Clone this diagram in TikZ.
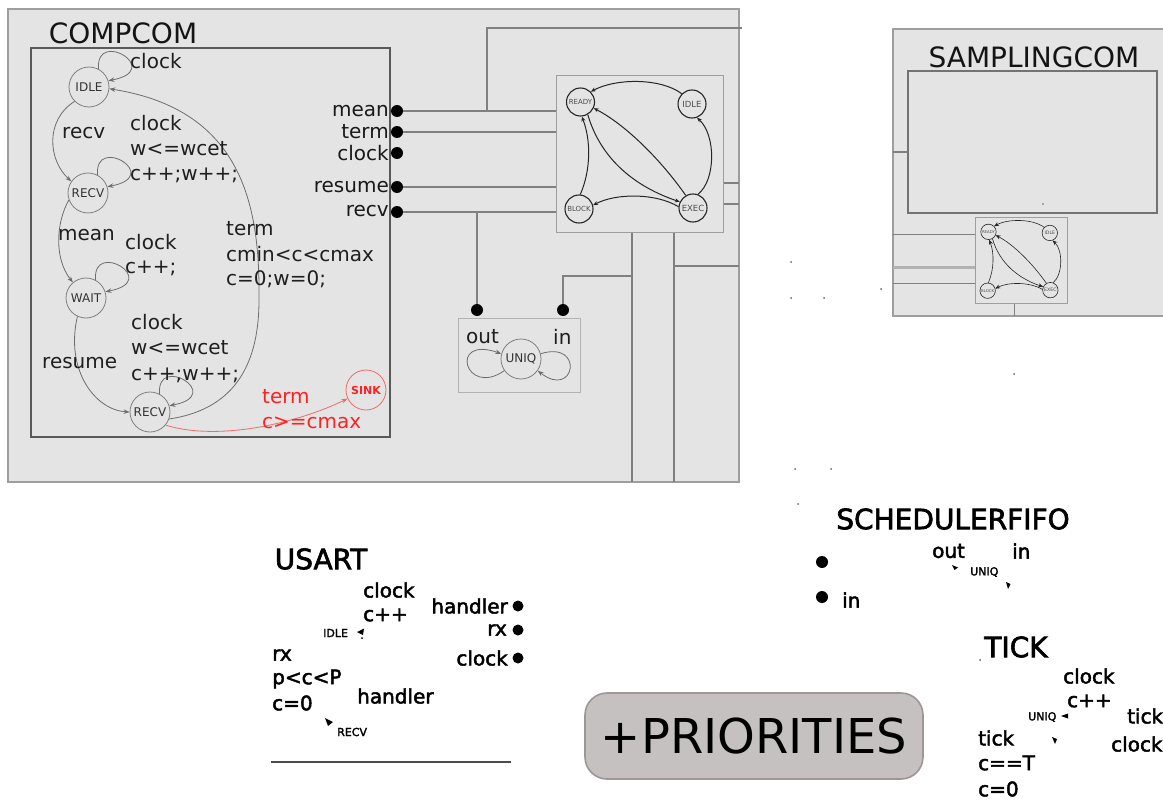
\documentclass[tikz,border=0pt]{standalone}
\usepackage{fontspec}
\setmainfont{DejaVu Sans}
\newfontfamily\thk[FakeBold=2.2]{DejaVu Sans}
\usetikzlibrary{arrows.meta,calc}

\definecolor{panel}{HTML}{E4E4E4}
\definecolor{panelline}{HTML}{9E9E9E}
\definecolor{wirecol}{HTML}{808080}
\definecolor{stcol}{HTML}{808080}
\definecolor{sinkred}{HTML}{FF2020}
\definecolor{sinkline}{HTML}{F06A6A}
\definecolor{priofill}{HTML}{C6C1C1}
\definecolor{priodraw}{HTML}{9C9696}

\newcommand\stloop[1]{\draw[tr] (#1.62) .. controls ($(#1.center)+(6,-59)$) and ($(#1.center)+(76,-17)$) .. (#1.18);}

\tikzset{
  panelbox/.style={fill=panel, draw=panelline, line width=1.3pt},
  wire/.style={draw=wirecol, line width=1.3pt},
  port/.style={circle, fill=black, minimum size=12pt, inner sep=0pt},
  smallport/.style={circle, fill=black, minimum size=11pt, inner sep=0pt},
  cst/.style={circle, draw=stcol, line width=0.8pt, minimum size=40pt, inner sep=0pt,
    font=\fontsize{12}{12}\selectfont, text=black!80},
  tr/.style={draw=stcol!85!black, line width=0.8pt, -{Stealth[length=6pt,width=4.5pt]}},
  lbl/.style={inner sep=0pt, anchor=west, font=\fontsize{20}{20}\selectfont, text=black!88},
  plbl/.style={inner sep=0pt, anchor=east, font=\fontsize{20}{20}\selectfont, text=black!90},
  title/.style={inner sep=0pt, font=\fontsize{28}{28}\selectfont, text=black!92},
  blbl/.style={inner sep=0pt, anchor=west, font=\thk\fontsize{20}{20}\selectfont},
  bplbl/.style={inner sep=0pt, anchor=east, font=\thk\fontsize{20}{20}\selectfont},
  btitle/.style={inner sep=0pt, font=\thk\fontsize{28}{28}\selectfont},
  tiny/.style={inner sep=0pt, anchor=west, font=\thk\fontsize{11}{11}\selectfont},
  schframe/.style={draw=panelline, fill=panel, line width=1.2pt, inner sep=0pt,
    minimum width=167pt, minimum height=157pt},
  sst/.style={circle, draw=black!85, line width=1.1pt, minimum size=28pt, inner sep=0pt, text=black!70},
  str/.style={draw=black!85, line width=1pt, -{Stealth[length=5pt,width=4pt]}},
  speck/.style={fill=black!60},
  schedfsm/.pic={
    \node[schframe, anchor=north west] (-box) at (0,0) {};
    \node[sst] (-ready) at (24.5,27) {\fontsize{7}{7}\selectfont READY};
    \node[sst] (-idle)  at (136,29)  {\fontsize{8.5}{8.5}\selectfont IDLE};
    \node[sst] (-block) at (23,134)  {\fontsize{7}{7}\selectfont BLOCK};
    \node[sst] (-exec)  at (137,133) {\fontsize{8.5}{8.5}\selectfont EXEC};
    \draw[str] (-idle.135)  .. controls (105,3) and (60,3)      .. (-ready.45);
    \draw[str] (-exec.70)   .. controls (160,105) and (160,60)  .. (-idle.-70);
    \draw[str] (-exec.175)  .. controls (100,118) and (60,118)  .. (-block.15);
    \draw[str] (-block.85)  .. controls (35,95) and (35,65)     .. (-ready.-85);
    \draw[str] (-ready.-60) .. controls (45,85) and (80,112)    .. (-exec.155);
    \draw[str] (-exec.120)  .. controls (105,85) and (70,50)    .. (-ready.-25);
  }
}

\begin{document}
\begin{tikzpicture}[x=1pt,y=-1pt]
\useasboundingbox (0,0) rectangle (1163,800);
\fill[white] (0,0) rectangle (1163,800);

% ---------------- COMPCOM panel ----------------
\draw[panelbox] (8,9) rectangle (739,482);
\node[title] (t-compcom) at (123,33) {COMPCOM};
\draw[draw=black!65, line width=1.5pt] (31,48) rectangle (390,437);

% states
\node[cst] (c-idle)  at (89,87)   {IDLE};
\node[cst] (c-recv)  at (88,193)  {RECV};
\node[cst] (c-wait)  at (86,298)  {WAIT};
\node[cst] (c-recv2) at (150,412) {RECV};
\node[cst, draw=sinkline, text=sinkred, font=\bfseries\fontsize{11}{11}\selectfont] (c-sink) at (366,390) {SINK};

% self loops
\stloop{c-idle}
\stloop{c-recv}
\stloop{c-wait}
\stloop{c-recv2}

% transitions
\draw[tr] (c-idle.225) .. controls (45,120) and (48,160) .. (c-recv.145);
\draw[tr] (c-recv.200) .. controls (55,225) and (55,260) .. (c-wait.130);
\draw[tr] (c-wait.245) .. controls (65,370) and (95,410) .. (c-recv2.180);
\draw[tr] (c-recv2.-20) .. controls (230,410) and (259,370) .. (259,300)
          .. controls (260,210) and (245,110) .. (c-idle.-5);
\draw[tr, draw=sinkline] (c-recv2.-40) .. controls (220,442) and (300,422) .. (c-sink.205);

% transition labels
\node[lbl] (l-clk1) at (130,61) {clock};
\node[lbl] (l-recv) at (62,133) {recv};
\node[lbl] (l-clk2) at (130,123) {clock};
\node[lbl] (l-g1)   at (130,149) {w<=wcet};
\node[lbl] (l-u1)   at (130,175) {c++;w++;};
\node[lbl] (l-mean) at (58,235) {mean};
\node[lbl] (l-clk3) at (125,242) {clock};
\node[lbl] (l-u2)   at (125,268) {c++;};
\node[lbl] (l-term) at (226,229) {term};
\node[lbl] (l-g2)   at (226,254) {cmin<c<cmax};
\node[lbl] (l-u3)   at (226,279) {c=0;w=0;};
\node[lbl] (l-clk4) at (131,322) {clock};
\node[lbl] (l-g3)   at (131,348) {w<=wcet};
\node[lbl] (l-u4)   at (131,375) {c++;w++;};
\node[lbl] (l-res)  at (42,363) {resume};
\node[lbl, text=sinkred] (l-term2) at (262,397) {term};
\node[lbl, text=sinkred] (l-g4)    at (262,423) {c>=cmax};

% ports
\node[port] (p-mean)   at (397,111) {};
\node[port] (p-term)   at (397,132) {};
\node[port] (p-clock)  at (397,153) {};
\node[port] (p-resume) at (397,187) {};
\node[port] (p-recv)   at (397,212) {};
\node[plbl] (pl-mean)   at (389,111) {mean};
\node[plbl] (pl-term)   at (389,132) {term};
\node[plbl] (pl-clock)  at (389,153) {clock};
\node[plbl] (pl-resume) at (389,187) {resume};
\node[plbl] (pl-recv)   at (389,211) {recv};

% scheduler inside COMPCOM
\pic (sch) at (556,75) {schedfsm};

% wiring
\coordinate (w-top) at (742,28);
\coordinate (w-jmean) at (487,111);
\draw[wire] (w-top) -- (w-top -| w-jmean) -- (w-jmean);
\draw[wire] (p-mean) -- (p-mean -| sch-box.west);
\draw[wire] (p-term) -- (p-term -| sch-box.west);
\draw[wire] (p-resume) -- (p-resume -| sch-box.west);
\draw[wire] (p-recv) -- (p-recv -| sch-box.west);
\coordinate (w-ea) at (739,183);
\coordinate (w-eb) at (739,204);
\draw[wire] (sch-box.east |- w-ea) -- (w-ea);
\draw[wire] (sch-box.east |- w-eb) -- (w-eb);
\coordinate (w-ba) at (632,482);
\coordinate (w-bb) at (674,482);
\draw[wire] (w-ba |- sch-box.south) -- (w-ba);
\draw[wire] (w-bb |- sch-box.south) -- (w-bb);
\coordinate (w-tap) at (674,266);
\draw[wire] (w-tap) -- (739,266);

% UNIQ block
\node[draw=black!30, fill=panel, line width=1pt, minimum width=122pt, minimum height=74pt, inner sep=0pt] (u-box) at (519,355) {};
\node[cst, font=\fontsize{12}{12}\selectfont] (u-st) at (521,359) {UNIQ};
\node[lbl] (u-lout) at (466,337) {out};
\node[lbl] (u-lin)  at (553,337) {in};
\draw[tr] (u-st.215) .. controls (465,398) and (448,335) .. (u-st.165);
\draw[tr] (u-st.15) .. controls (585,340) and (575,400) .. (u-st.-35);
\node[port] (u-out) at (477,310) {};
\node[port] (u-in)  at (563,310) {};
\draw[wire] (u-out) -- (u-out |- p-recv);
\coordinate (w-uin) at (563,276);
\draw[wire] (u-in) -- (w-uin) -- (w-uin -| w-ba);

% ---------------- SAMPLINGCOM panel ----------------
\draw[panelbox] (893,29) rectangle (1170,316);
\node[title] (t-samp) at (1034,57) {SAMPLINGCOM};
\draw[draw=black!55, line width=1.2pt] (908,71) rectangle (1157,213);
\coordinate (s-in) at (908,152);
\draw[wire] (893,152) -- (s-in);
\pic[scale=0.55, transform shape, sst/.append style={line width=0.6pt}, str/.append style={line width=0.6pt}, schframe/.append style={line width=0.8pt}] (smp) at (975,217) {schedfsm};
\draw[wire, line width=0.9pt] (893,234) -- (893,234 -| smp-box.west);
\draw[wire, draw=black!30, line width=3pt] (893,267) -- (893,267 -| smp-box.west);
\draw[wire, line width=0.9pt] (893,283) -- (893,283 -| smp-box.west);
\coordinate (s-bot) at (1014,316);
\draw[wire, line width=0.9pt] (smp-box.south -| s-bot) -- (s-bot);
\fill[speck] (1043,204) circle (0.8);

% scattered specks
\foreach \p in {(791,262),(791,298),(824,298),(881,289),(1014,374),(795,469),(831,469),(798,504),(980,660)}
  \fill[speck] \p circle (1);

% ---------------- USART ----------------
\node[btitle] (t-usart) at (321,559) {USART};
\node[blbl] (us-clk)  at (363,590) {clock};
\node[blbl] (us-inc)  at (363,615) {c++};
\node[tiny] (us-idle) at (323,633) {IDLE};
\fill (357,632) -- (364,628.5) -- (363,635) -- cycle;
\fill (362,638) circle (1);
\node[bplbl] (us-hnd) at (508,606) {handler};
\node[bplbl] (us-rx)  at (507,630) {rx};
\node[bplbl] (us-clk2) at (508,658) {clock};
\node[smallport] (us-p1) at (518,606) {};
\node[smallport] (us-p2) at (518,630) {};
\node[smallport] (us-p3) at (518,658) {};
\node[blbl] (us-rxl) at (272,655) {rx};
\node[blbl] (us-g)   at (272,679) {p<c<P};
\node[blbl] (us-rst) at (272,703) {c=0};
\node[blbl] (us-hnd2) at (357,696) {handler};
\fill (325,718) -- (333,722) -- (328,726) -- cycle;
\node[tiny] (us-recv) at (337,732) {RECV};
\coordinate (us-la) at (271,762);
\coordinate (us-lb) at (511,762);
\draw[draw=black!70, line width=1.2pt] (us-la) -- (us-lb);

% ---------------- SCHEDULERFIFO ----------------
\node[btitle] (t-fifo) at (953,519) {SCHEDULERFIFO};
\node[blbl] (sf-out) at (932,551) {out};
\node[blbl] (sf-in)  at (1012,551) {in};
\node[tiny] (sf-uniq) at (970,572) {UNIQ};
\fill (952,565) -- (958,567.5) -- (954.5,570) -- cycle;
\fill (1006,582) -- (1010.5,584) -- (1008,589) -- cycle;
\node[port] (sf-p1) at (822,562) {};
\node[port] (sf-p2) at (822,597) {};
\node[blbl] (sf-in2) at (842,600) {in};

% ---------------- TICK ----------------
\node[btitle] (t-tick) at (1016,647) {TICK};
\node[blbl] (tk-clk)  at (1063,676) {clock};
\node[blbl] (tk-inc)  at (1067,701) {c++};
\node[tiny] (tk-uniq) at (1028,717) {UNIQ};
\fill (1061,716) -- (1068,713.5) -- (1068,718.5) -- cycle;
\node[blbl] (tk-tick) at (1127,716) {tick};
\node[blbl] (tk-tick2) at (978,738) {tick};
\fill (1052,737) -- (1057,739) -- (1055,744) -- cycle;
\node[blbl] (tk-clk2) at (1111,744) {clock};
\node[blbl] (tk-g)    at (978,763) {c==T};
\node[blbl] (tk-rst)  at (978,789) {c=0};

% ---------------- +PRIORITIES ----------------
\node[draw=priodraw, fill=priofill, line width=1.6pt, rounded corners=22pt,
      minimum width=338pt, minimum height=86pt, inner sep=0pt,
      font=\fontsize{48}{48}\selectfont, text=black] (prio) at (754,736) {+PRIORITIES};
\end{tikzpicture}
\end{document}
